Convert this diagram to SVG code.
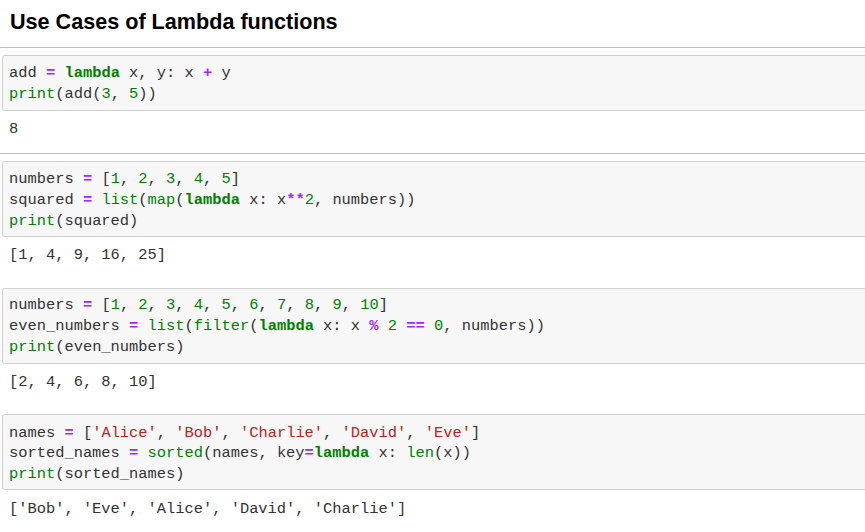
<svg xmlns="http://www.w3.org/2000/svg" width="865" height="532" viewBox="0 0 865 532">
<style>
.t{font-family:"Liberation Mono",monospace;font-size:15.4px;fill:#333;white-space:pre}
.k{fill:#008000;font-weight:bold}.o{fill:#AA22FF;font-weight:bold}.n{fill:#008000}.b{fill:#008000}.s{fill:#BA2121}
.cell{fill:#f7f7f7;stroke:#cfcfcf}
.sep{stroke:#bdbdbd}
</style>
<rect width="865" height="532" fill="#fff"/>
<text x="10" y="29" font-family="Liberation Sans,Arial,sans-serif" font-weight="bold" font-size="21.6" fill="#000">Use Cases of Lambda functions</text>
<line class="sep" x1="0" y1="47.5" x2="865" y2="47.5"/>
<line class="sep" x1="0" y1="153.5" x2="865" y2="153.5"/>
<g id="cell1">
<rect class="cell" x="2.5" y="55.5" width="870" height="55" rx="2"/>
<text class="t" x="9" y="77">add <tspan class="o">=</tspan> <tspan class="k">lambda</tspan> x, y: x <tspan class="o">+</tspan> y</text>
<text class="t" x="9" y="98"><tspan class="b">print</tspan>(add(<tspan class="n">3</tspan>, <tspan class="n">5</tspan>))</text>
<text class="t" x="9" y="133">8</text>
</g>
<g id="cell2">
<rect class="cell" x="2.5" y="161.5" width="870" height="75" rx="2"/>
<text class="t" x="9" y="183">numbers <tspan class="o">=</tspan> [<tspan class="n">1</tspan>, <tspan class="n">2</tspan>, <tspan class="n">3</tspan>, <tspan class="n">4</tspan>, <tspan class="n">5</tspan>]</text>
<text class="t" x="9" y="204">squared <tspan class="o">=</tspan> <tspan class="b">list</tspan>(<tspan class="b">map</tspan>(<tspan class="k">lambda</tspan> x: x<tspan class="o">**</tspan><tspan class="n">2</tspan>, numbers))</text>
<text class="t" x="9" y="225"><tspan class="b">print</tspan>(squared)</text>
<text class="t" x="9" y="259">[1, 4, 9, 16, 25]</text>
</g>
<g id="cell3">
<rect class="cell" x="2.5" y="288.5" width="870" height="75" rx="2"/>
<text class="t" x="9" y="309">numbers <tspan class="o">=</tspan> [<tspan class="n">1</tspan>, <tspan class="n">2</tspan>, <tspan class="n">3</tspan>, <tspan class="n">4</tspan>, <tspan class="n">5</tspan>, <tspan class="n">6</tspan>, <tspan class="n">7</tspan>, <tspan class="n">8</tspan>, <tspan class="n">9</tspan>, <tspan class="n">10</tspan>]</text>
<text class="t" x="9" y="330">even_numbers <tspan class="o">=</tspan> <tspan class="b">list</tspan>(<tspan class="b">filter</tspan>(<tspan class="k">lambda</tspan> x: x <tspan class="o">%</tspan> <tspan class="n">2</tspan> <tspan class="o">==</tspan> <tspan class="n">0</tspan>, numbers))</text>
<text class="t" x="9" y="351"><tspan class="b">print</tspan>(even_numbers)</text>
<text class="t" x="9" y="386">[2, 4, 6, 8, 10]</text>
</g>
<g id="cell4">
<rect class="cell" x="2.5" y="414.5" width="870" height="75" rx="2"/>
<text class="t" x="9" y="437">names <tspan class="o">=</tspan> [<tspan class="s">'Alice'</tspan>, <tspan class="s">'Bob'</tspan>, <tspan class="s">'Charlie'</tspan>, <tspan class="s">'David'</tspan>, <tspan class="s">'Eve'</tspan>]</text>
<text class="t" x="9" y="457">sorted_names <tspan class="o">=</tspan> <tspan class="b">sorted</tspan>(names, key<tspan class="o">=</tspan><tspan class="k">lambda</tspan> x: <tspan class="b">len</tspan>(x))</text>
<text class="t" x="9" y="478"><tspan class="b">print</tspan>(sorted_names)</text>
<text class="t" x="9" y="513">['Bob', 'Eve', 'Alice', 'David', 'Charlie']</text>
</g>
</svg>
